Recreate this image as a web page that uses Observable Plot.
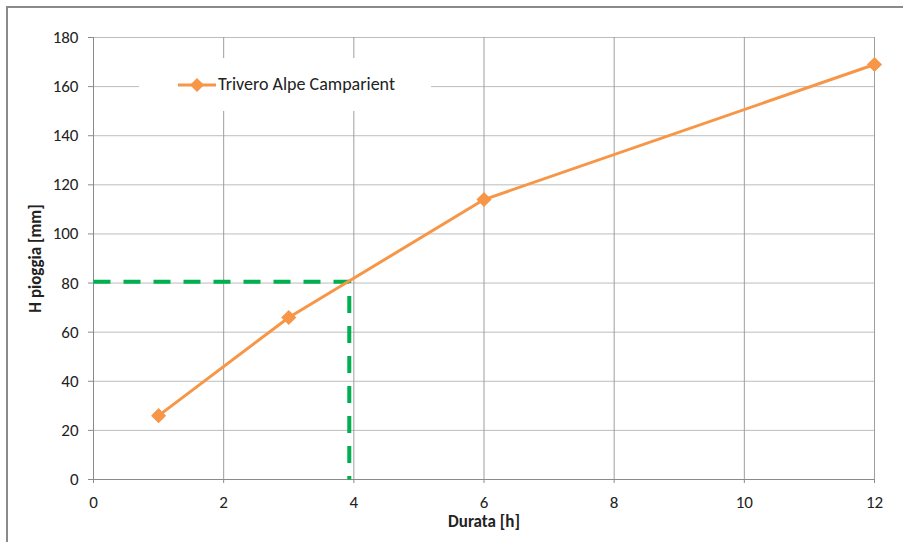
<!DOCTYPE html>
<html>
<head>
<meta charset="utf-8">
<script src="https://cdn.jsdelivr.net/npm/d3@7"></script>
<script src="https://cdn.jsdelivr.net/npm/@observablehq/plot@0.6"></script>
<style>
  body { margin: 0; background: #fff; }
  #chart { position: relative; width: 903px; height: 542px; font-family: Calibri, Carlito, Lato, sans-serif; }
  #frame { position: absolute; left: 6px; top: 6px; right: 0; bottom: 0; border-left: 2px solid #8a8a8a; border-top: 2px solid #8a8a8a; pointer-events: none; }
  #legend { position: absolute; left: 139px; top: 58px; width: 292px; height: 53px; background: #fff; }
  #legend svg { position: absolute; left: 0; top: 0; }
  #legend span { position: absolute; left: 79px; top: 15px; font-size: 18px; line-height: 22px; color: #222; white-space: nowrap; }
</style>
</head>
<body>
<div id="chart">
  <div id="plot"></div>
  <div id="legend">
    <svg width="80" height="53"><line x1="39" y1="27" x2="77" y2="27" stroke="#f79646" stroke-width="3"/><path d="M58,20L65,27L58,34L51,27Z" fill="#f79646"/></svg>
    <span>Trivero Alpe Camparient</span>
  </div>
  <div id="frame"></div>
</div>
<script>
// Rainfall depth vs. duration at the Trivero Alpe Camparient station
const durata = [1, 3, 6, 12];
const pioggia = [26, 66, 114, 169];

// Tick values
const xTicks = [0, 2, 4, 6, 8, 10, 12];
const yTicks = [0, 20, 40, 60, 80, 100, 120, 140, 160, 180];

// Reading guide: duration at which the curve reaches the threshold depth
const guideX = [0, 3.93, 3.93];
const guideY = [80.5, 80.5, 0];

const serie = durata.map((d, i) => ({durata: d, pioggia: pioggia[i]}));
const guida = guideX.map((d, i) => ({x: d, y: guideY[i]}));

const chart = Plot.plot({
  width: 903,
  height: 542,
  marginLeft: 93,
  marginRight: 29,
  marginTop: 37,
  marginBottom: 63,
  style: {fontFamily: "Calibri, Carlito, Lato, sans-serif", fontSize: "17px", color: "#222", background: "#fff"},
  x: {domain: [0, 12]},
  y: {domain: [0, 180]},
  marks: [
    Plot.ruleY(yTicks, {stroke: "#bdbdbd", strokeWidth: 1, strokeOpacity: 1}),
    Plot.ruleX(xTicks, {stroke: "#9e9e9e", strokeWidth: 1, strokeOpacity: 1}),
    Plot.ruleX([0], {stroke: "#8a8a8a", strokeWidth: 1}),
    Plot.ruleY([0], {stroke: "#8a8a8a", strokeWidth: 1}),
    Plot.axisY({ticks: yTicks, tickSize: 5, tickPadding: 10, stroke: "#8a8a8a", label: null}),
    Plot.axisX({ticks: xTicks, tickSize: 4, tickPadding: 12, stroke: "#8a8a8a", label: null}),
    Plot.line(guida, {x: "x", y: "y", stroke: "#00b050", strokeWidth: 4, strokeDasharray: "17,13", strokeLinecap: "butt", strokeLinejoin: "miter"}),
    Plot.line(serie, {x: "durata", y: "pioggia", stroke: "#f79646", strokeWidth: 3}),
    Plot.dot(serie, {x: "durata", y: "pioggia", symbol: "diamond2", r: 6.8, fill: "#f79646", stroke: "none"}),
    Plot.text(["H pioggia [mm]"], {frameAnchor: "left", textAnchor: "middle", dx: -58, rotate: -90, fontWeight: "bold", fontSize: 17, fill: "#222"}),
    Plot.text(["Durata [h]"], {frameAnchor: "bottom", textAnchor: "middle", dy: 47, fontWeight: "bold", fontSize: 17, fill: "#222"})
  ]
});
document.getElementById("plot").append(chart);
</script>
</body>
</html>
